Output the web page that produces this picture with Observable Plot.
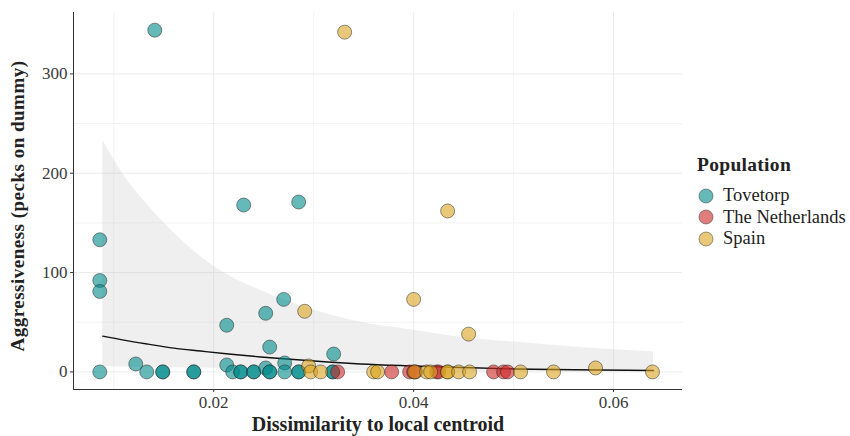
<!DOCTYPE html>
<html>
<head>
<meta charset="utf-8">
<script src="https://cdn.jsdelivr.net/npm/d3@7"></script>
<script src="https://cdn.jsdelivr.net/npm/@observablehq/plot@0.6"></script>
<style>
  body { margin: 0; background: #fff; }
  #wrap { position: relative; width: 850px; height: 436px; font-family: "Liberation Serif", "DejaVu Serif", serif; }
  #legend { position: absolute; left: 697px; top: 154px; color: #222; }
  #legend .title { font-weight: bold; font-size: 19.5px; margin-bottom: 9px; letter-spacing: 0.3px; }
  #legend .item { display: flex; align-items: center; font-size: 18.5px; height: 21.5px; }
  #legend svg { margin-right: 8px; }
  #ylab { position: absolute; left: 18px; top: 206px; transform: translate(-50%,-50%) rotate(-90deg); white-space: nowrap;
          font-weight: bold; font-size: 19px; letter-spacing: 0.5px; color: #222; }
</style>
</head>
<body>
<div id="wrap">
  <div id="chart"></div>
  <div id="ylab">Aggressiveness (pecks on dummy)</div>
  <div id="legend"></div>
</div>
<script>
// ---- data ----
const populations = ["Tovetorp", "The Netherlands", "Spain"];
const popColors = ["#008B8B", "#CD2626", "#DAA520"];

const tovetorpX = [0.0141,0.0086,0.0086,0.0086,0.0086,0.0122,0.0133,0.0149,0.0149,0.0180,0.0180,0.0230,0.0285,0.0213,0.0270,0.0252,0.0256,0.0320,0.0213,0.0271,0.0219,0.0227,0.0227,0.0240,0.0240,0.0252,0.0256,0.0256,0.0271,0.0285,0.0285,0.0319,0.0319];
const tovetorpY = [344,133,92,81,0,8,0,0,0,0,0,168,171,47,73,59,25,18,7,9,0,0,0,0,0,4,0,0,0,0,0,0,0];

const netherlandsX = [0.0324,0.0378,0.0396,0.0400,0.0402,0.0423,0.0425,0.0480,0.0490,0.0494];
const netherlandsY = [0,0,0,0,0,0,0,0,0,0];

const spainX = [0.0331,0.0434,0.0291,0.0400,0.0455,0.0582,0.0639,0.0295,0.0297,0.0307,0.0360,0.0364,0.0401,0.0413,0.0417,0.0434,0.0434,0.0445,0.0456,0.0507,0.0540];
const spainY = [342,162,61,73,38,4,0,6,0,0,0,0,0,0,0,0,0,0,0,0,0];

// fitted curve and confidence band
const fitX     = [0.0089,0.0110,0.0134,0.0160,0.0187,0.0215,0.0247,0.0280,0.0314,0.0347,0.0400,0.0447,0.0500,0.0560,0.0640];
const fitY     = [36,32,28,24,21,18,15,12.5,10,8,6,4.5,3,2.2,1.5];
const bandUpper= [233,198,168,140,116,97,82,69,58,50,42,35,30,25,20];
const bandLower= [5.5,5,4.6,4.2,3.9,3.4,2.7,2.2,1.7,1.3,0.9,0.6,0.3,0.2,0.1];

const xTicks = [0.02,0.04,0.06];
const xMinor = [0.01,0.03,0.05];
const yTicks = [0,100,200,300];
const yMinor = [50,150,250];

const xDomain = [0.00597,0.0669];
const yDomain = [-17.7,361.8];

// ---- build tables ----
const points = [];
[[tovetorpX,tovetorpY],[netherlandsX,netherlandsY],[spainX,spainY]].forEach(([xs,ys],i) => {
  xs.forEach((x,j) => points.push({x, y: ys[j], pop: populations[i]}));
});
const fit = fitX.map((x,i) => ({x, y: fitY[i], lo: bandLower[i], hi: bandUpper[i]}));

const font = '"Liberation Serif", "DejaVu Serif", serif';

const chart = Plot.plot({
  width: 690,
  height: 436,
  marginLeft: 73,
  marginRight: 8,
  marginTop: 12,
  marginBottom: 47,
  style: {fontFamily: font, fontSize: "17px", color: "#333", background: "#fff"},
  x: {domain: xDomain, label: null},
  y: {domain: yDomain, label: null},
  color: {domain: populations, range: popColors},
  marks: [
    Plot.ruleX(xMinor, {stroke: "#f3f3f3", strokeWidth: 1}),
    Plot.ruleY(yMinor, {stroke: "#f3f3f3", strokeWidth: 1}),
    Plot.ruleX(xTicks, {stroke: "#ebebeb", strokeWidth: 1}),
    Plot.ruleY(yTicks, {stroke: "#ebebeb", strokeWidth: 1}),
    Plot.areaY(fit, {x: "x", y1: "lo", y2: "hi", fill: "#b8b8bc", fillOpacity: 0.22, curve: "monotone-x"}),
    Plot.line(fit, {x: "x", y: "y", stroke: "#111", strokeWidth: 1.4, curve: "monotone-x"}),
    Plot.dot(points, {x: "x", y: "y", fill: "pop", fillOpacity: 0.6, stroke: "#222", strokeOpacity: 0.55, strokeWidth: 0.9, r: 7}),
    Plot.ruleX([xDomain[0]], {stroke: "#333", strokeWidth: 1}),
    Plot.ruleY([yDomain[0]], {stroke: "#333", strokeWidth: 1}),
    Plot.axisX({ticks: xTicks, tickFormat: d3.format(".2f"), tickSize: 3, tickPadding: 3, fill: "#3a3a3a", stroke: "#333", label: null, fontSize: 17}),
    Plot.axisY({ticks: yTicks, tickFormat: d => String(d), tickSize: 3, tickPadding: 3, fill: "#3a3a3a", stroke: "#333", label: null, fontSize: 17}),
    Plot.text(["Dissimilarity to local centroid"], {frameAnchor: "bottom", dy: 41, fontWeight: "bold", fontSize: 20, fill: "#222", style: "letter-spacing:0.5px"})
  ]
});
document.getElementById("chart").appendChild(chart);

// legend
const leg = document.getElementById("legend");
const t = document.createElement("div"); t.className = "title"; t.textContent = "Population"; leg.appendChild(t);
populations.forEach((p,i) => {
  const it = document.createElement("div"); it.className = "item";
  it.innerHTML = `<svg width="18" height="18"><circle cx="9" cy="9" r="7" fill="${popColors[i]}" fill-opacity="0.6" stroke="#222" stroke-opacity="0.5" stroke-width="0.9"/></svg><span>${p}</span>`;
  leg.appendChild(it);
});
</script>
</body>
</html>
